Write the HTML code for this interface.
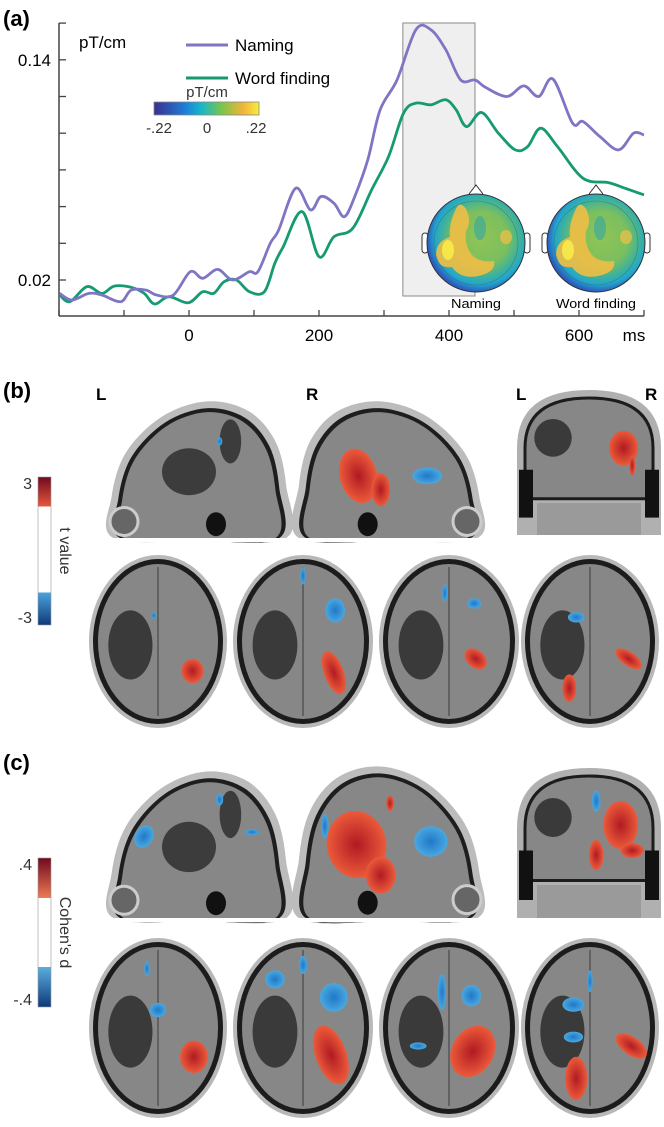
<!DOCTYPE html>
<html><head><meta charset="utf-8">
<style>
html,body{margin:0;padding:0;background:#fff;}
body{width:664px;height:1122px;overflow:hidden;font-family:"Liberation Sans",sans-serif;}
svg text{font-family:"Liberation Sans",sans-serif;}
</style></head>
<body>
<svg id="fig" width="664" height="1122" viewBox="0 0 664 1122" xmlns="http://www.w3.org/2000/svg">
<defs>
  <linearGradient id="viridis" x1="0" x2="1" y1="0" y2="0">
    <stop offset="0" stop-color="#3b2f8f"/><stop offset="0.3" stop-color="#1e7fd8"/>
    <stop offset="0.45" stop-color="#16b7c9"/><stop offset="0.65" stop-color="#7dc548"/>
    <stop offset="0.85" stop-color="#f2b43a"/><stop offset="1" stop-color="#f7ee3a"/>
  </linearGradient>
  <radialGradient id="topo" cx="0.55" cy="0.45" r="0.55">
    <stop offset="0" stop-color="#8fc455"/><stop offset="0.5" stop-color="#7cbf5e"/>
    <stop offset="0.72" stop-color="#3fb29a"/><stop offset="0.86" stop-color="#22a6cc"/>
    <stop offset="1" stop-color="#2b5cc0"/>
  </radialGradient>
  <linearGradient id="tbar" x1="0" x2="0" y1="0" y2="1">
    <stop offset="0" stop-color="#6e0a1e"/><stop offset="0.2" stop-color="#e8563c"/>
    <stop offset="0.2" stop-color="#ffffff"/><stop offset="0.78" stop-color="#ffffff"/>
    <stop offset="0.78" stop-color="#4aa3dd"/><stop offset="1" stop-color="#0e3a78"/>
  </linearGradient>
  <linearGradient id="dbar" x1="0" x2="0" y1="0" y2="1">
    <stop offset="0" stop-color="#6e0a1e"/><stop offset="0.27" stop-color="#ef7a55"/>
    <stop offset="0.27" stop-color="#ffffff"/><stop offset="0.73" stop-color="#ffffff"/>
    <stop offset="0.73" stop-color="#5aaee0"/><stop offset="1" stop-color="#0e3a78"/>
  </linearGradient>
  <radialGradient id="redblob"><stop offset="0" stop-color="#b01a22"/><stop offset="1" stop-color="#ec5a3a"/></radialGradient>
  <radialGradient id="blueblob"><stop offset="0" stop-color="#1f78c8"/><stop offset="1" stop-color="#4aa8e0"/></radialGradient>
</defs>
<g id="chartA"></g>
<g id="brains"></g>
</svg>
<script>
const msNaming=[-199,-180,-154,-134,-105,-89,-66,-50,-24,2,21,44,67,93,106,125,138,164,187,203,223,239,255,275,294,320,349,372,395,418,440,456,489,515,538,560,590,606,632,661,684,700];
const valNaming=[0.0127,0.0091,0.0127,0.0118,0.0082,0.0145,0.0145,0.0118,0.0118,0.0245,0.0209,0.0258,0.020,0.0245,0.0245,0.040,0.0473,0.070,0.0582,0.0655,0.0618,0.0545,0.0655,0.0855,0.1127,0.129,0.1564,0.1564,0.1455,0.129,0.129,0.125,0.12,0.1258,0.12,0.1295,0.1055,0.1064,0.0982,0.0909,0.100,0.099];
const msWord=[-199,-183,-157,-134,-115,-89,-69,-53,-31,-1,21,38,54,73,93,116,132,145,174,200,223,252,281,307,330,349,372,395,411,427,450,476,502,521,541,567,606,645,671,700];
const valWord=[0.0118,0.0082,0.0164,0.0127,0.0167,0.016,0.0127,0.0069,0.0109,0.0076,0.0136,0.0127,0.0191,0.020,0.0136,0.0136,0.0291,0.0382,0.0573,0.0327,0.0436,0.0482,0.0691,0.0873,0.1109,0.1164,0.1155,0.1182,0.1127,0.1036,0.1113,0.100,0.0909,0.0927,0.1027,0.0927,0.0755,0.0731,0.070,0.0664];
const xTickVals=[-200,-100,0,100,200,300,400,500,600,700];
const xTickLabels=[["0",0],["200",200],["400",400],["600",600]];
const yTickVals=[0.02,0.04,0.06,0.08,0.10,0.12,0.14,0.16];
const yTickLabels=[["0.14",0.14],["0.02",0.02]];
const windowMs=[329,440];

const NS="http://www.w3.org/2000/svg";
function mk(tag,attrs,parent,text){const e=document.createElementNS(NS,tag);for(const k in attrs)e.setAttribute(k,attrs[k]);if(text!==undefined)e.textContent=text;parent.appendChild(e);return e;}
const xS=ms=>189+0.65*ms;
const yS=v=>280-(v-0.02)/0.02*36.7;
const A=document.getElementById('chartA');

function curveThrough(p,closed){
 let d="M"+p[0][0].toFixed(1)+","+p[0][1].toFixed(1);const n=p.length;
 const last=closed?n:n-1;
 for(let i=0;i<last;i++){const g=k=>closed?p[(k+n)%n]:p[Math.max(0,Math.min(n-1,k))];
  const p0=g(i-1),p1=g(i),p2=g(i+1),p3=g(i+2);
  const c1=[p1[0]+(p2[0]-p0[0])/6,p1[1]+(p2[1]-p0[1])/6],c2=[p2[0]-(p3[0]-p1[0])/6,p2[1]-(p3[1]-p1[1])/6];
  d+=" C"+c1.map(v=>v.toFixed(1)).join(",")+" "+c2.map(v=>v.toFixed(1)).join(",")+" "+p2[0].toFixed(1)+","+p2[1].toFixed(1);}
 return d+(closed?"Z":"");}
function smooth(xs,ys){let p=[];for(let i=0;i<xs.length;i++)p.push([xS(xs[i]),yS(ys[i])]);return curveThrough(p,false);}

let t=mk('text',{x:3,y:26,'font-size':22,'font-weight':'bold'},A,'(a)');

let sh=mk('rect',{x:xS(windowMs[0]),y:23,width:xS(windowMs[1])-xS(windowMs[0]),height:273,fill:'#efefef',stroke:'#8a8a8a','stroke-width':1},A);

let ya=mk('line',{x1:59,y1:23,x2:59,y2:316,stroke:'#444','stroke-width':1.5},A);

let xa=mk('line',{x1:59,y1:316,x2:644,y2:316,stroke:'#444','stroke-width':1.5},A);

for(const v of yTickVals){let l=mk('line',{x1:59,x2:66,y1:yS(v),y2:yS(v),stroke:'#444','stroke-width':1.3},A);
 }
for(const v of xTickVals){let l=mk('line',{x1:xS(v),x2:xS(v),y1:316,y2:310,stroke:'#444','stroke-width':1.3},A);
 }
for(const [s,v] of yTickLabels){let e=mk('text',{x:51,y:yS(v)+6,'font-size':17,'text-anchor':'end'},A,s);
 }
for(const [s,v] of xTickLabels){let e=mk('text',{x:xS(v),y:341,'font-size':17,'text-anchor':'middle'},A,s);
 }
t=mk('text',{x:634,y:341,'font-size':17,'text-anchor':'middle'},A,'ms');

t=mk('text',{x:79,y:48,'font-size':17},A,'pT/cm');

let ln=mk('path',{d:smooth(msWord,valWord),fill:'none',stroke:'#159a72','stroke-width':2.8},A);

ln=mk('path',{d:smooth(msNaming,valNaming),fill:'none',stroke:'#7e76c4','stroke-width':2.8},A);

let lg=mk('g',{},A);
mk('line',{x1:186,x2:228,y1:45,y2:45,stroke:'#7e76c4','stroke-width':3},lg);
mk('text',{x:235,y:51,'font-size':17},lg,'Naming');
mk('line',{x1:186,x2:228,y1:78,y2:78,stroke:'#159a72','stroke-width':3},lg);
mk('text',{x:235,y:84,'font-size':17},lg,'Word finding');
let cb=mk('g',{},A);
mk('rect',{x:154,y:102,width:105,height:13,fill:'url(#viridis)',stroke:'#888','stroke-width':0.8},cb);
mk('text',{x:207,y:97,'font-size':15,'text-anchor':'middle',fill:'#333'},cb,'pT/cm');
mk('text',{x:159,y:133,'font-size':15,'text-anchor':'middle',fill:'#333'},cb,'-.22');
mk('text',{x:207,y:133,'font-size':15,'text-anchor':'middle',fill:'#333'},cb,'0');
mk('text',{x:256,y:133,'font-size':15,'text-anchor':'middle',fill:'#333'},cb,'.22');
function topo(cx,name,label){let g=mk('g',{},A);
 mk('path',{d:`M${cx-7},${194} L${cx},${185} L${cx+7},${194}`,fill:'#fff',stroke:'#333','stroke-width':1},g);
 mk('rect',{x:cx-54,y:233,width:6,height:20,rx:3,fill:'#fff',stroke:'#333','stroke-width':1},g);
 mk('rect',{x:cx+48,y:233,width:6,height:20,rx:3,fill:'#fff',stroke:'#333','stroke-width':1},g);
 mk('circle',{cx:cx,cy:243,r:49,fill:'url(#topo)',stroke:'#333','stroke-width':1},g);
 mk('path',{d:`M${cx-18},${205} q-10,18 -8,32 q-14,4 -14,18 q2,14 16,12 q10,14 30,8 q14,-4 12,-14 q-14,2 -22,-6 q-8,-10 -6,-24 q6,-10 0,-22 q-4,-6 -8,-4z`,fill:'#efbe45',opacity:0.9},g);
 mk('ellipse',{cx:cx-28,cy:250,rx:6,ry:10,fill:'#f5e64a'},g);
 mk('ellipse',{cx:cx+30,cy:237,rx:6,ry:7,fill:'#e4c04a',opacity:0.8},g);
 mk('ellipse',{cx:cx+4,cy:228,rx:6,ry:12,fill:'#3fa99a',opacity:0.7},g);
 mk('circle',{cx:cx,cy:243,r:42,fill:'none',stroke:'#2a6c6a','stroke-width':0.6,opacity:0.6},g);
 mk('text',{x:cx,y:308,'font-size':12.5,'text-anchor':'middle',textLength:label.length>8?80:50,lengthAdjust:'spacingAndGlyphs'},g,label);
}
topo(476,'topomap-naming','Naming');
topo(596,'topomap-word-finding','Word finding');

const B=document.getElementById('brains');
function label(x,y,s,size,name){let e=mk('text',{x:x,y:y,'font-size':size,'font-weight':'bold'},B,s);return e;}
label(3,398,'(b)',22,'panel-label-b');
label(3,770,'(c)',22,'panel-label-c');
label(96,400,'L',17,'left-label');label(306,400,'R',17,'right-label');
label(516,400,'L',17,'left-label-coronal');label(645,400,'R',17,'right-label-coronal');

function colorbar(y0,y1,grad,top,bot,title,name){let g=mk('g',{},B);
 mk('rect',{x:38,y:y0,width:13,height:y1-y0,fill:`url(#${grad})`,stroke:'#999','stroke-width':0.6},g);
 mk('text',{x:32,y:y0+12,'font-size':16,'text-anchor':'end',fill:'#333'},g,top);
 mk('text',{x:32,y:y1-2,'font-size':16,'text-anchor':'end',fill:'#333'},g,bot);
 const cy=(y0+y1)/2;mk('text',{x:60,y:cy,'font-size':16,'text-anchor':'middle',fill:'#333',transform:`rotate(90 60 ${cy})`},g,title);}
colorbar(477,625,'tbar','3','-3','t value','t-value-colorbar');
colorbar(858,1007,'dbar','.4','-.4',"Cohen's d",'cohens-d-colorbar');

function sagPath(x0,y0,w,h,flip){
 const pts=[[0.03,1.0],[0.02,0.7],[0.1,0.38],[0.3,0.12],[0.55,0.01],[0.78,0.08],[0.93,0.3],[0.99,0.62],[0.99,1.0],[0.5,1.02]];
 const P=pts.map(p=>[x0+(flip?1-p[0]:p[0])*w,y0+p[1]*h]);
 return curveThrough(P,true);}
function brain(kind,x0,y0,w,h,blobs,name){let g=mk('g',{},B);
 const cx=x0+w/2,cy=y0+h/2;
 if(kind==='axial'){
  mk('ellipse',{cx:cx,cy:cy,rx:w/2,ry:h/2,fill:'#b8b8b8'},g);
  mk('ellipse',{cx:cx,cy:cy,rx:w/2-4,ry:h/2-4,fill:'#1c1c1c'},g);
  mk('ellipse',{cx:cx,cy:cy,rx:w/2-9,ry:h/2-9,fill:'#878787'},g);
  mk('ellipse',{cx:cx-w*0.2,cy:cy+h*0.02,rx:w*0.16,ry:h*0.2,fill:'#3a3a3a'},g);
  mk('line',{x1:cx,y1:y0+12,x2:cx,y2:y0+h-12,stroke:'#555','stroke-width':1.5},g);
 } else if(kind==='coronal'){
  mk('path',{d:`M${x0},${y0+h} L${x0},${y0+h*0.4} Q${x0},${y0} ${cx},${y0} Q${x0+w},${y0} ${x0+w},${y0+h*0.4} L${x0+w},${y0+h}Z`,fill:'#b0b0b0'},g);
  mk('path',{d:`M${x0+8},${y0+h*0.75} L${x0+8},${y0+h*0.4} Q${x0+8},${y0+8} ${cx},${y0+8} Q${x0+w-8},${y0+8} ${x0+w-8},${y0+h*0.4} L${x0+w-8},${y0+h*0.75}Z`,fill:'#878787',stroke:'#1c1c1c','stroke-width':3},g);
  mk('ellipse',{cx:x0+w*0.25,cy:y0+h*0.33,rx:w*0.13,ry:h*0.13,fill:'#3a3a3a'},g);
  mk('rect',{x:x0+2,y:y0+h*0.55,width:14,height:h*0.33,fill:'#111'},g);
  mk('rect',{x:x0+w-16,y:y0+h*0.55,width:14,height:h*0.33,fill:'#111'},g);
  mk('rect',{x:x0+20,y:y0+h*0.78,width:w-40,height:h*0.22,fill:'#9a9a9a'},g);
 } else {
  const flip=kind==='sagR';
  mk('path',{d:sagPath(x0,y0,w,h,flip),fill:'#bcbcbc'},g);
  mk('path',{d:sagPath(x0+7,y0+7,w-14,h-7,flip),fill:'#1e1e1e'},g);
  mk('path',{d:sagPath(x0+11,y0+11,w-22,h-11,flip),fill:'#878787'},g);
  mk('rect',{x:x0,y:y0+h,width:w,height:4,fill:'#fff'},g);
  mk('ellipse',{cx:x0+w*(flip?0.38:0.6),cy:y0+h*0.9,rx:10,ry:12,fill:'#111'},g);
  mk('circle',{cx:x0+(flip?w-16:16),cy:y0+h*0.88,r:14,fill:'#666',stroke:'#ccc','stroke-width':3},g);
  if(!flip){mk('ellipse',{cx:x0+w*0.45,cy:y0+h*0.52,rx:w*0.15,ry:h*0.17,fill:'#3c3c3c'},g);
   mk('ellipse',{cx:x0+w*0.68,cy:y0+h*0.3,rx:w*0.06,ry:h*0.16,fill:'#3c3c3c'},g);}
 }
 for(const b of blobs){mk('ellipse',{cx:x0+b[0]*w,cy:y0+b[1]*h,rx:b[2]*w,ry:b[3]*h,fill:b[4]==='r'?'url(#redblob)':'url(#blueblob)',transform:`rotate(${b[5]||0} ${x0+b[0]*w} ${y0+b[1]*h})`},g);}
}
brain('sagL',108,400,180,138,[[0.62,0.3,0.015,0.03,'b']],'b-sagittal-left');
brain('sagR',297,400,186,138,[[0.33,0.55,0.1,0.2,'r',-15],[0.45,0.65,0.05,0.12,'r'],[0.7,0.55,0.08,0.06,'b']],'b-sagittal-right');
brain('coronal',517,390,144,145,[[0.74,0.4,0.1,0.12,'r'],[0.8,0.52,0.02,0.07,'r']],'b-coronal');
brain('axial',89,555,138,173,[[0.75,0.67,0.08,0.07,'r'],[0.47,0.35,0.02,0.02,'b']],'b-axial-1');
brain('axial',233,555,140,173,[[0.72,0.68,0.07,0.13,'r',-20],[0.73,0.32,0.07,0.07,'b'],[0.5,0.12,0.02,0.05,'b']],'b-axial-2');
brain('axial',379,555,140,173,[[0.69,0.6,0.09,0.05,'r',40],[0.68,0.28,0.05,0.03,'b'],[0.47,0.22,0.02,0.05,'b']],'b-axial-3');
brain('axial',521,555,138,173,[[0.78,0.6,0.11,0.04,'r',35],[0.35,0.77,0.05,0.08,'r'],[0.4,0.36,0.06,0.03,'b']],'b-axial-4');
brain('sagL',108,770,180,148,[[0.2,0.45,0.05,0.08,'b',30],[0.62,0.2,0.02,0.04,'b'],[0.8,0.42,0.04,0.02,'b']],'c-sagittal-left');
brain('sagR',297,765,186,153,[[0.32,0.52,0.16,0.22,'r',-10],[0.45,0.72,0.08,0.12,'r'],[0.72,0.5,0.09,0.1,'b'],[0.15,0.4,0.02,0.08,'b'],[0.5,0.25,0.02,0.05,'r']],'c-sagittal-right');
brain('coronal',517,768,144,150,[[0.72,0.38,0.12,0.16,'r'],[0.55,0.58,0.05,0.1,'r'],[0.8,0.55,0.08,0.05,'r'],[0.55,0.22,0.03,0.07,'b']],'c-coronal');
brain('axial',89,938,138,180,[[0.76,0.66,0.1,0.09,'r'],[0.5,0.4,0.06,0.04,'b'],[0.42,0.17,0.02,0.04,'b']],'c-axial-1');
brain('axial',233,938,140,180,[[0.7,0.65,0.11,0.17,'r',-20],[0.72,0.33,0.1,0.08,'b'],[0.3,0.23,0.07,0.05,'b'],[0.5,0.15,0.03,0.05,'b']],'c-axial-2');
brain('axial',379,938,140,180,[[0.67,0.63,0.15,0.15,'r',30],[0.66,0.32,0.07,0.06,'b'],[0.45,0.3,0.03,0.1,'b'],[0.28,0.6,0.06,0.02,'b']],'c-axial-3');
brain('axial',521,938,138,180,[[0.8,0.6,0.13,0.05,'r',35],[0.4,0.78,0.08,0.12,'r'],[0.38,0.37,0.08,0.04,'b'],[0.38,0.55,0.07,0.03,'b'],[0.5,0.24,0.02,0.06,'b']],'c-axial-4');
</script>
</body></html>
